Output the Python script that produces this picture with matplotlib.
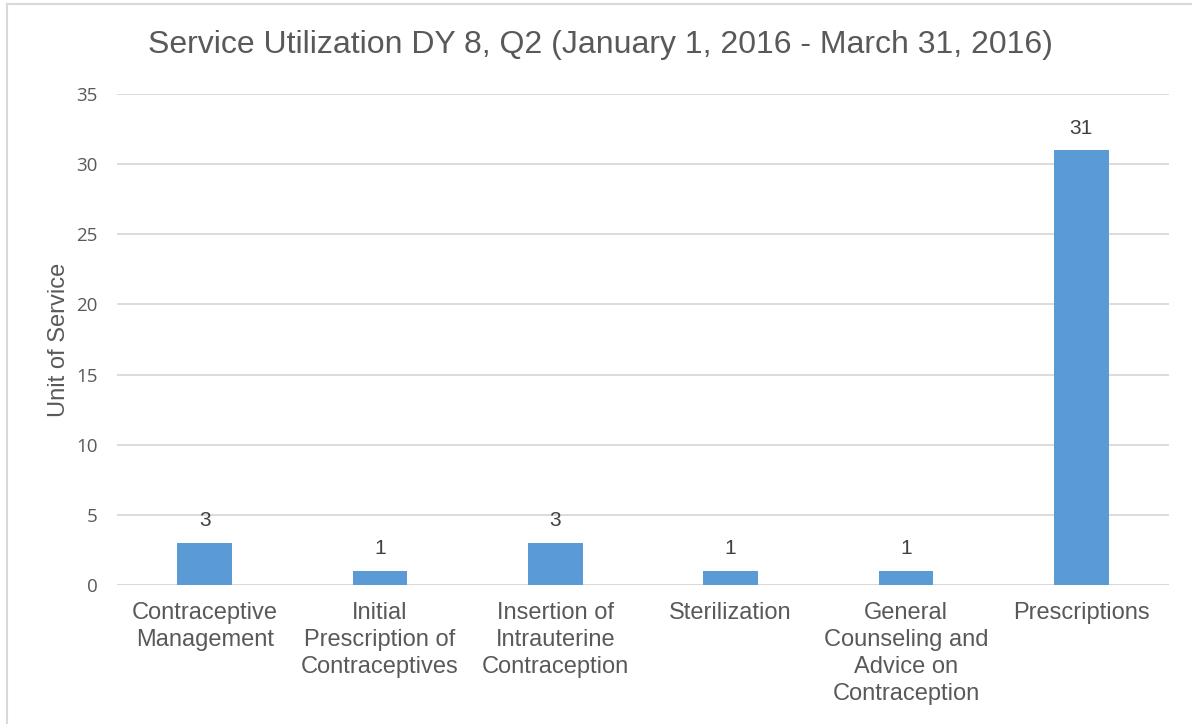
import matplotlib.pyplot as plt
from matplotlib.lines import Line2D

categories = ["Contraceptive\nManagement",
              "Initial\nPrescription of\nContraceptives",
              "Insertion of\nIntrauterine\nContraception",
              "Sterilization",
              "General\nCounseling and\nAdvice on\nContraception",
              "Prescriptions"]
values = [3, 1, 3, 1, 1, 31]
yticks = [0, 5, 10, 15, 20, 25, 30, 35]

text_col = "#595959"
bar_col = "#5B9BD5"
grid_col = "#D9D9D9"

fig = plt.figure(figsize=(11.92, 7.24), dpi=100)
ax = fig.add_axes([117 / 1192, 1 - 585 / 724, 1052 / 1192, 491 / 724])

x = range(len(categories))
bars = ax.bar(x, values, width=0.31, color=bar_col, zorder=3)
for b, v in zip(bars, values):
    ax.annotate(str(v), (b.get_x() + b.get_width() / 2, v), xytext=(0, 9),
                textcoords="offset points", ha="center", va="bottom",
                fontsize=15, color="#404040", family="Liberation Sans")

ax.set_xlim(-0.5, len(categories) - 0.5)
ax.set_ylim(0, 35)
ax.set_yticks(yticks)
ax.set_xticks(list(x))
ax.set_xticklabels(categories, fontsize=17, color=text_col,
                   family="Liberation Sans", linespacing=1.3)
for lab in ax.get_yticklabels():
    lab.set_family("Open Sans")
    lab.set_fontsize(13.5)
    lab.set_color(text_col)
ax.tick_params(axis="x", length=0, pad=12)
ax.tick_params(axis="y", length=0, pad=14)
ax.grid(axis="y", color=grid_col, linewidth=1.3, zorder=0)
for s in ax.spines.values():
    s.set_visible(False)
ax.axhline(0, color=grid_col, linewidth=1.5, zorder=2)

ax.set_ylabel("Unit of Service", fontsize=17, color=text_col, family="Liberation Sans")
ax.yaxis.set_label_coords(-0.045, 0.5)

fig.text(600 / 1192, 1 - 45 / 724, "Service Utilization DY 8, Q2 (January 1, 2016 - March 31, 2016)",
         ha="center", va="center", fontsize=23, color=text_col, family="Liberation Sans")

# chart frame (only left and top edges visible)
fig.add_artist(Line2D([7 / 1192, 7 / 1192], [0, 1 - 4 / 724], color=grid_col, linewidth=1.5))
fig.add_artist(Line2D([7 / 1192, 1], [1 - 4 / 724, 1 - 4 / 724], color=grid_col, linewidth=1.5))

fig.savefig("out.png", dpi=100)
